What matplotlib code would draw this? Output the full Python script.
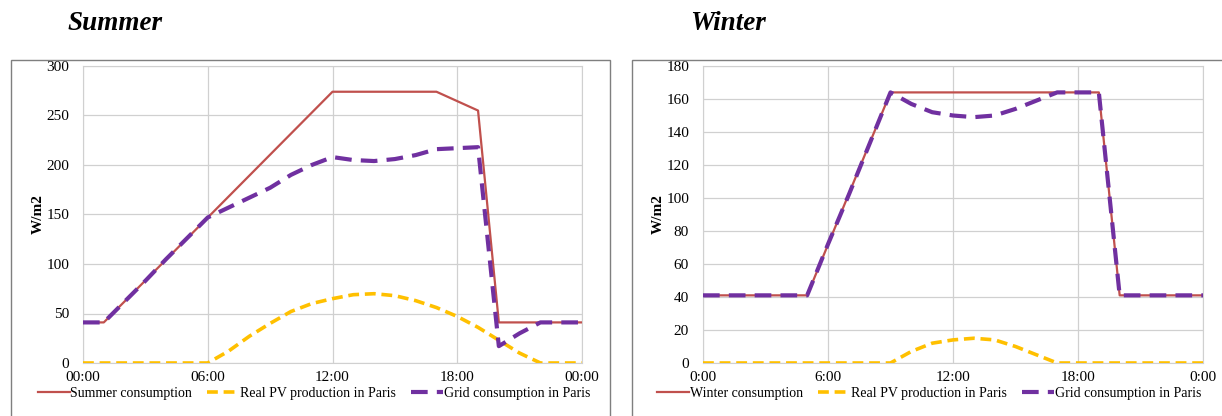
import matplotlib.pyplot as plt
from matplotlib.patches import Rectangle

# Hours of the day (0..24)
hours = list(range(25))

# Summer (W/m2)
summer_cons_h = [0, 1, 12, 17, 19, 20, 24]
summer_cons = [41, 41, 274, 274, 255, 41, 41]
summer_pv = [0, 0, 0, 0, 0, 0, 0, 12, 27, 40, 52, 60, 65, 69, 70, 68, 63, 56, 47, 36, 23, 10, 0, 0, 0]
summer_grid = [41, 41, 62, 83, 105, 126, 147, 157, 167, 177, 190, 200, 208, 205, 204, 206, 210, 216, 217, 218, 17, 30, 41, 41, 41]

# Winter
winter_cons_h = [0, 5, 9, 19, 20, 24]
winter_cons = [41, 41, 164, 164, 41, 41]
winter_pv = [0, 0, 0, 0, 0, 0, 0, 0, 0, 0, 7, 12, 14, 15, 14, 10, 5, 0, 0, 0, 0, 0, 0, 0, 0]
winter_grid = [41, 41, 41, 41, 41, 41, 72, 102, 133, 164, 157, 152, 150, 149, 150, 154, 159, 164, 164, 164, 41, 41, 41, 41, 41]

summer_ticks = ["00:00", "06:00", "12:00", "18:00", "00:00"]
winter_ticks = ["0:00", "6:00", "12:00", "18:00", "0:00"]

red = "#C0504D"
yellow = "#FFC000"
purple = "#7030A0"

plt.rcParams["font.family"] = ["Liberation Serif", "DejaVu Serif"]

fig = plt.figure(figsize=(12.22, 4.16), dpi=100)

# chart area borders
fig.patches.append(Rectangle((11 / 1222, -0.1), 599 / 1222, 1.1 - 60 / 416, transform=fig.transFigure,
                             fill=False, edgecolor="#7F7F7F", linewidth=1.0))
fig.patches.append(Rectangle((632 / 1222, -0.1), 600 / 1222, 1.1 - 60 / 416, transform=fig.transFigure,
                             fill=False, edgecolor="#7F7F7F", linewidth=1.0))


def draw(ax, cons_h, cons, pv, grid, ymax, ystep, ticks, cons_label):
    ax.plot(cons_h, cons, color=red, linewidth=1.6, label=cons_label, zorder=3)
    ax.plot(hours, pv, color=yellow, linewidth=2.6, dashes=(3, 1.6), label="Real PV production in Paris", zorder=4)
    ax.plot(hours, grid, color=purple, linewidth=3.0, dashes=(4, 2.2), label="Grid consumption in Paris", zorder=5)
    ax.set_xlim(0, 24)
    ax.set_ylim(0, ymax)
    ax.set_xticks([0, 6, 12, 18, 24])
    ax.set_xticklabels(ticks)
    ax.set_yticks(range(0, ymax + 1, ystep))
    ax.grid(True, color="#D0D0D0", linewidth=0.9)
    ax.set_axisbelow(True)
    for s in ax.spines.values():
        s.set_color("#D0D0D0")
    ax.tick_params(length=0, labelsize=11)
    ax.tick_params(axis="x", pad=6)
    ax.tick_params(axis="y", pad=10)
    ax.set_ylabel("W/m2", fontsize=11, fontweight="bold", labelpad=1)


ax1 = fig.add_axes([83 / 1222, 1 - 363 / 416, 499 / 1222, 297 / 416])
draw(ax1, summer_cons_h, summer_cons, summer_pv, summer_grid, 300, 50, summer_ticks, "Summer consumption")
ax2 = fig.add_axes([703 / 1222, 1 - 363 / 416, 500 / 1222, 297 / 416])
draw(ax2, winter_cons_h, winter_cons, winter_pv, winter_grid, 180, 20, winter_ticks, "Winter consumption")

for ax, cx in [(ax1, 314 / 1222), (ax2, 929 / 1222)]:
    fig.legend(*ax.get_legend_handles_labels(), loc="center", bbox_to_anchor=(cx, 1 - 393 / 416), ncol=3,
               frameon=False, fontsize=10, handlelength=2.3, handletextpad=0.05, columnspacing=1.1)

fig.text(68 / 1222, 1 - 23 / 416, "Summer", fontsize=19.5, fontweight="bold", fontstyle="italic", va="center")
fig.text(690 / 1222, 1 - 23 / 416, "Winter", fontsize=19.5, fontweight="bold", fontstyle="italic", va="center")

plt.savefig("out.png", dpi=100)
